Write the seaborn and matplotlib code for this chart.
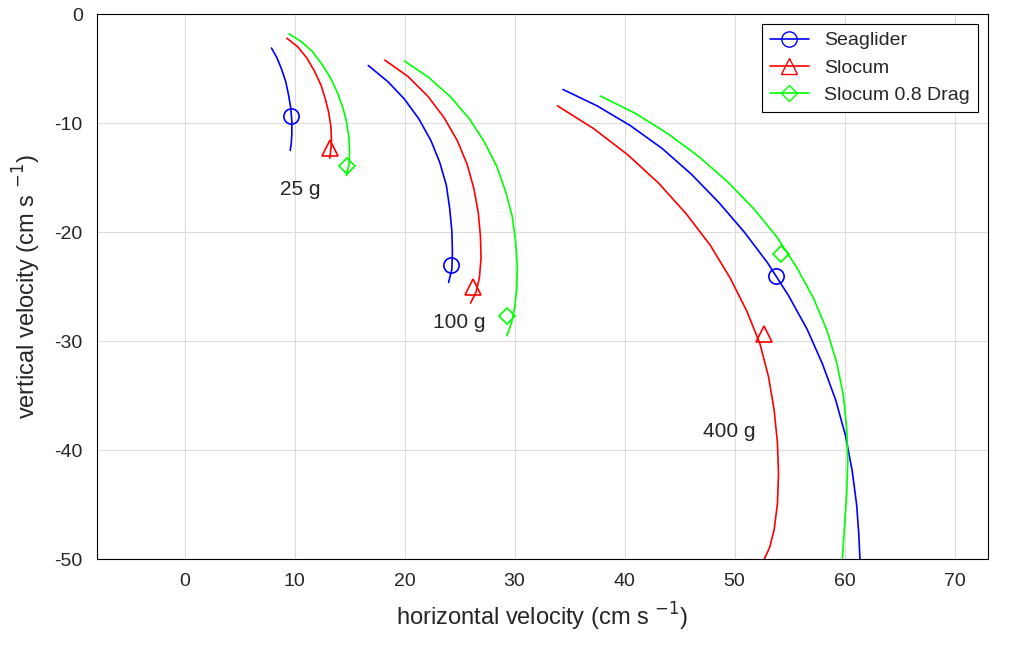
import numpy as np
import pandas as pd
import matplotlib
matplotlib.use("Agg")
import matplotlib.pyplot as plt
import seaborn as sns

# curves: (horizontal, vertical) in cm/s
sg25_x = [7.9, 8.4, 8.8, 9.2, 9.45, 9.65, 9.75, 9.75, 9.7, 9.6]
sg25_y = [-3.1, -4.0, -5.0, -6.2, -7.4, -8.6, -9.8, -11.0, -11.8, -12.5]
sl25_x = [9.3, 10.3, 11.1, 11.8, 12.4, 12.8, 13.1, 13.3, 13.35, 13.3, 13.2]
sl25_y = [-2.2, -3.0, -4.0, -5.2, -6.5, -7.8, -9.0, -10.3, -11.5, -12.4, -13.2]
sd25_x = [9.5, 10.6, 11.6, 12.5, 13.3, 13.9, 14.4, 14.75, 14.95, 15.0, 14.95, 14.7]
sd25_y = [-1.8, -2.5, -3.4, -4.6, -5.9, -7.2, -8.6, -10.0, -11.4, -12.7, -13.8, -14.8]

sg100_x = [16.7, 18.5, 20.0, 21.3, 22.4, 23.2, 23.8, 24.1, 24.3, 24.35, 24.3, 24.0]
sg100_y = [-4.7, -6.2, -7.8, -9.6, -11.6, -13.6, -15.7, -17.8, -19.9, -21.8, -23.4, -24.6]
sl100_x = [18.2, 20.3, 22.1, 23.6, 24.8, 25.7, 26.3, 26.7, 26.9, 26.95, 26.8, 26.5, 26.0]
sl100_y = [-4.2, -5.7, -7.5, -9.5, -11.6, -13.8, -16.0, -18.2, -20.4, -22.4, -24.2, -25.5, -26.5]
sd100_x = [20.0, 22.2, 24.2, 25.9, 27.3, 28.4, 29.2, 29.8, 30.1, 30.25, 30.2, 30.0, 29.7, 29.3]
sd100_y = [-4.3, -5.8, -7.6, -9.6, -11.8, -14.0, -16.3, -18.6, -20.9, -23.1, -25.2, -27.0, -28.4, -29.5]

sg400_x = [34.4, 37.5, 40.5, 43.4, 46.1, 48.6, 50.9, 53.0, 54.9, 56.6, 58.0, 59.2, 60.1, 60.7, 61.1, 61.3, 61.4]
sg400_y = [-6.9, -8.4, -10.2, -12.3, -14.7, -17.3, -20.0, -22.8, -25.8, -28.9, -32.1, -35.4, -38.7, -41.9, -45.0, -47.7, -50]
sl400_x = [33.9, 37.2, 40.3, 43.1, 45.6, 47.8, 49.6, 51.1, 52.3, 53.1, 53.6, 53.9, 54.0, 53.9, 53.6, 53.2, 52.7]
sl400_y = [-8.4, -10.5, -12.9, -15.5, -18.3, -21.2, -24.2, -27.2, -30.2, -33.3, -36.3, -39.3, -42.2, -44.9, -47.3, -48.9, -50]
sd400_x = [37.8, 41.0, 44.0, 46.8, 49.4, 51.8, 53.9, 55.7, 57.2, 58.4, 59.3, 59.9, 60.2, 60.3, 60.2, 60.0, 59.8]
sd400_y = [-7.5, -9.1, -11.0, -13.1, -15.4, -17.9, -20.5, -23.3, -26.1, -29.0, -32.0, -35.0, -38.0, -41.0, -44.0, -47.0, -50]

# marker positions
sg_mx = [9.7, 24.2, 53.8]
sg_my = [-9.3, -23.0, -24.0]
sl_mx = [13.2, 26.2, 52.7]
sl_my = [-12.3, -25.0, -29.3]
sd_mx = [14.8, 29.3, 54.2]
sd_my = [-13.9, -27.7, -22.0]

mass_labels = ["25 g", "100 g", "400 g"]
label_x = [10.5, 25.0, 49.5]
label_y = [-16.1, -28.3, -38.3]

sns.set_style("whitegrid")
plt.rcParams['font.family'] = ['Liberation Sans', 'DejaVu Sans']
plt.rcParams['axes.unicode_minus'] = False

fig = plt.figure(figsize=(10.17, 6.48), dpi=100)
ax = fig.add_axes([0.095, 0.137, 0.876, 0.841])

series = [
    ("Seaglider", "#0000ff", "o", [(sg25_x, sg25_y), (sg100_x, sg100_y), (sg400_x, sg400_y)], sg_mx, sg_my),
    ("Slocum", "#ff0000", "^", [(sl25_x, sl25_y), (sl100_x, sl100_y), (sl400_x, sl400_y)], sl_mx, sl_my),
    ("Slocum 0.8 Drag", "#00ff00", "D", [(sd25_x, sd25_y), (sd100_x, sd100_y), (sd400_x, sd400_y)], sd_mx, sd_my),
]

for name, col, mk, curves, mx, my in series:
    for cx, cy in curves:
        df = pd.DataFrame({"x": cx, "y": cy})
        sns.lineplot(data=df, x="x", y="y", sort=False, estimator=None, color=col, lw=1.2, ax=ax)
    ms = 11 if mk != "D" else 8
    ax.plot(mx, my, linestyle="none", marker=mk, mfc="none", mec=col, ms=ms, mew=1.2)
    ax.plot([], [], color=col, marker=mk, mfc="none", ms=ms, lw=1.2, label=name)

for t, x, y in zip(mass_labels, label_x, label_y):
    ax.text(x, y, t, fontsize=15, ha="center", va="center")

ax.set_xlim(-8, 73)
ax.set_ylim(-50, 0)
ax.set_xticks(range(0, 80, 10))
ax.set_yticks(range(-50, 1, 10))
ax.tick_params(labelsize=14, direction="in", length=4, pad=10)
ax.set_xlabel("horizontal velocity (cm s $^{-1}$)", fontsize=17, labelpad=8)
ax.set_ylabel("vertical velocity (cm s $^{-1}$)", fontsize=17, labelpad=8)
ax.grid(color="#dddddd", lw=0.8)
for s in ax.spines.values():
    s.set_color("black")
    s.set_linewidth(0.8)
leg = ax.legend(loc="upper right", fontsize=14, fancybox=False, edgecolor="black", framealpha=1)
leg.get_frame().set_linewidth(0.8)

fig.savefig("out.png", dpi=100)
